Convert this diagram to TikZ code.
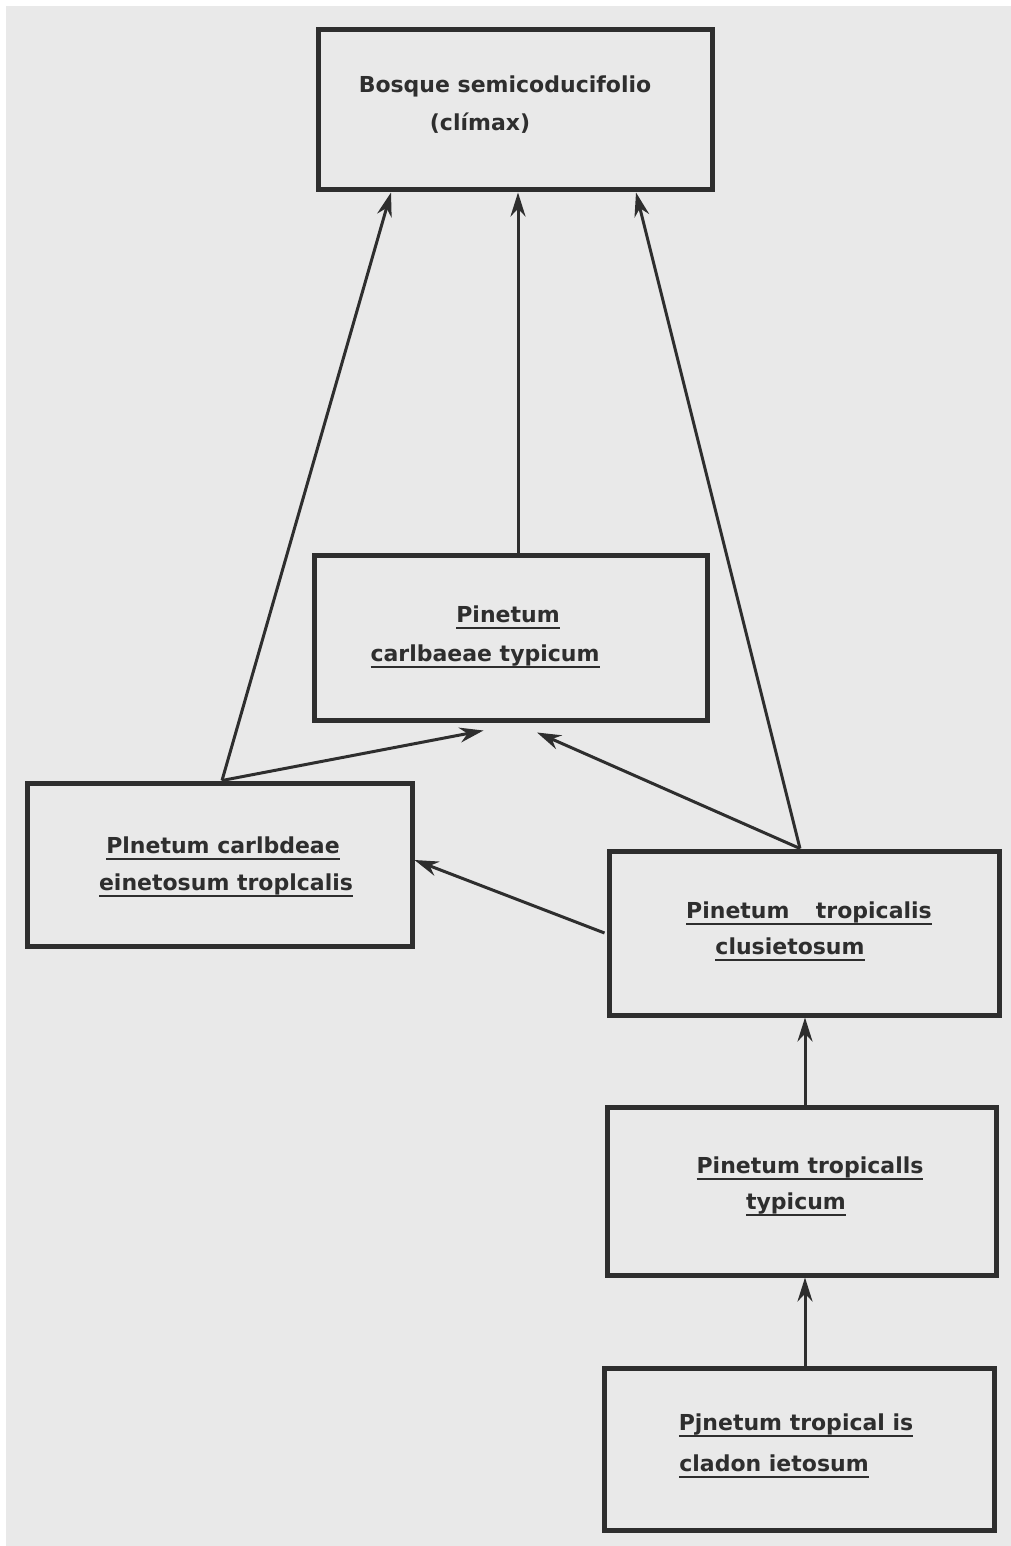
\documentclass[tikz,border=0pt]{standalone}
\usepackage{fontspec}
\setmainfont{DejaVu Sans}
\usetikzlibrary{arrows.meta}
\definecolor{paper}{HTML}{E9E9E9}
\definecolor{ink}{HTML}{2E2E2E}
\tikzset{
 box/.style={draw=ink, line width=5pt, inner sep=0pt},
 lbl/.style={text=ink, font=\fontsize{22}{26}\selectfont\bfseries, inner sep=0pt, anchor=base},
 conn/.style={draw=ink, line width=3pt, -{Stealth[length=24pt,width=15pt]}},
}
\newcommand\ulx[1]{\setbox0=\hbox{#1}\rlap{\raisebox{-7pt}{\rule{\wd0}{2.4pt}}}\box0}
\begin{document}
\begin{tikzpicture}[x=1pt,y=-1pt]
\useasboundingbox (0,0) rectangle (1011,1546);
\fill[white] (0,0) rectangle (1011,1546);
\fill[paper] (6,6) rectangle (1012,1547);
% boxes
\node[box, minimum width=394pt, minimum height=160pt] (top) at (515,110) {};
\node[box, minimum width=393pt, minimum height=165pt] (mid) at (510.5,637.5) {};
\node[box, minimum width=385pt, minimum height=163pt] (left) at (219.5,864.5) {};
\node[box, minimum width=390pt, minimum height=164pt] (right) at (804,933) {};
\node[box, minimum width=389pt, minimum height=168pt] (typ) at (801.5,1191) {};
\node[box, minimum width=390pt, minimum height=162pt] (clad) at (799,1449) {};
% labels
\node[lbl] (t1) at (505,93) {Bosque semicoducifolio};
\node[lbl] (t2) at (480,131) {(clímax)};
\node[lbl] (m1) at (508,622) {\ulx{Pinetum}};
\node[lbl] (m2) at (485,661) {\ulx{carlbaeae typicum}};
\node[lbl] (l1) at (223,853) {\ulx{Plnetum carlbdeae}};
\node[lbl] (l2) at (226,890) {\ulx{einetosum troplcalis}};
\node[lbl] (r1) at (809,918) {\ulx{Pinetum\hspace{1.2em}tropicalis}};
\node[lbl] (r2) at (790,954) {\ulx{clusietosum}};
\node[lbl] (p1) at (810,1173) {\ulx{Pinetum tropicalls}};
\node[lbl] (p2) at (796,1209) {\ulx{typicum}};
\node[lbl] (c1) at (796,1430) {\ulx{Pjnetum tropical is}};
\node[lbl] (c2) at (774,1471) {\ulx{cladon ietosum}};
% connectors
\draw[conn] ([xshift=2.5pt]left.north) -- ([xshift=-124pt]top.south);
\draw[conn] ([xshift=7.5pt]mid.north) -- ([xshift=3pt]top.south);
\draw[conn] ([xshift=-4pt]right.north) -- ([xshift=121pt]top.south);
\draw[conn] ([xshift=2.5pt]left.north) -- ([xshift=-27pt,yshift=-8pt]mid.south);
\draw[conn] ([xshift=-4pt]right.north) -- ([xshift=26.5pt,yshift=-10pt]mid.south);
\draw[conn] ([xshift=-2pt]right.west) -- ([yshift=4.5pt]left.east);
\draw[conn] ([xshift=3.5pt]typ.north) -- ([xshift=1pt]right.south);
\draw[conn] ([xshift=6pt]clad.north) -- ([xshift=3.5pt]typ.south);
\end{tikzpicture}
\end{document}
